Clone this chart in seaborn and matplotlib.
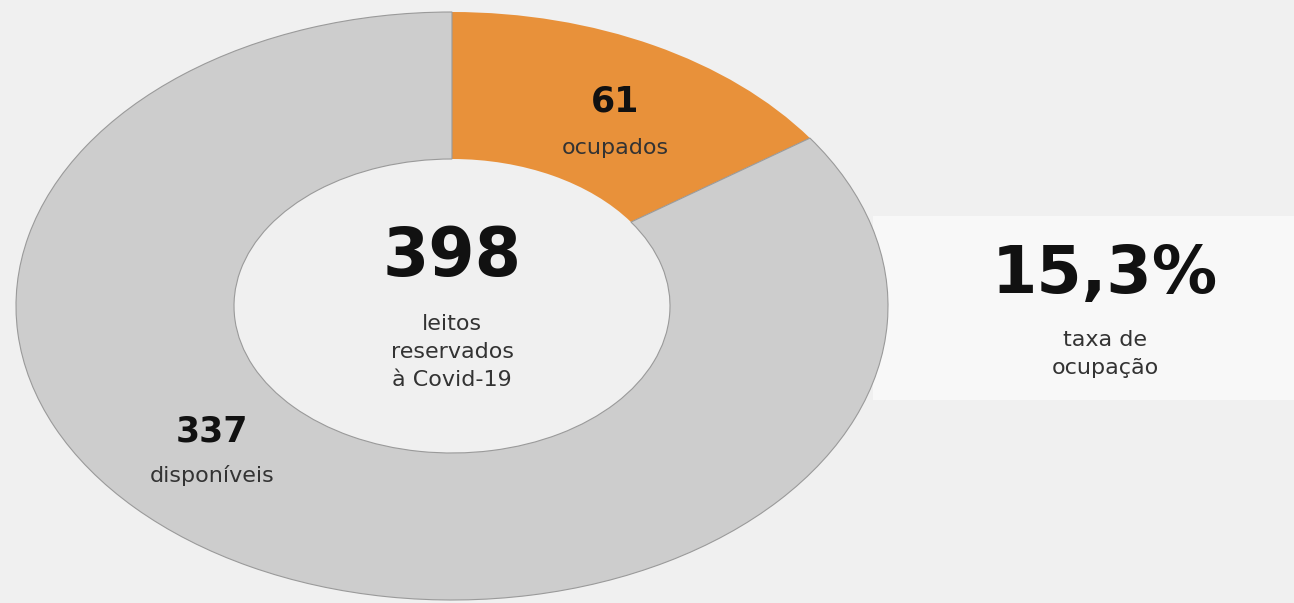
import matplotlib
matplotlib.use('Agg')
import matplotlib.pyplot as plt
import matplotlib.patches as patches
import seaborn as sns

# Data
labels = ['ocupados', 'disponíveis']
values = [61, 337]
total = 398
taxa = '15,3%'
center_lines = ['leitos', 'reservados', 'à Covid-19']
taxa_lines = ['taxa de', 'ocupação']
colors = ['#e8913a', '#cdcdcd']

sns.set_theme(style='white')
plt.rcParams['font.family'] = ['DejaVu Sans']

bg = '#f0f0f0'
fig = plt.figure(figsize=(12.94, 6.03), dpi=100, facecolor=bg)
ax = fig.add_axes([0, 0, 1, 1])
ax.set_facecolor(bg)

# right panel behind the donut
ax.add_patch(patches.Rectangle((0.675, 0.337), 0.33, 0.305, transform=ax.transAxes,
                               facecolor='#f8f8f8', edgecolor='none', zorder=0))

wedges, _ = ax.pie(values, startangle=90, counterclock=False, colors=colors,
                   wedgeprops=dict(width=0.5, linewidth=0))
wedges[1].set_edgecolor('#9a9a9a')
wedges[1].set_linewidth(0.8)
for w in wedges:
    w.set_zorder(2)

# stretch the donut horizontally like the original
ax.set_aspect('auto')
ax.set_xlim(-452 / 436, (1294 - 452) / 436)
ax.set_ylim(-297 / 294, (603 - 297) / 294)
ax.axis('off')

dark = '#111111'
mid = '#333333'

def px(x, y):
    # pixel position from top-left -> data coords (text sits a bit low, so lift it)
    return (x - 452) / 436, (297 - (y - 7)) / 294

# centre
ax.text(*px(452, 255), str(total), ha='center', va='center', fontsize=48,
        fontweight='bold', color=dark, zorder=3)
for i, line in enumerate(center_lines):
    ax.text(*px(452, 322 + 28 * i), line, ha='center', va='center', fontsize=16,
            color=mid, zorder=3)

# slices
ax.text(*px(615, 100), str(values[0]), ha='center', va='center', fontsize=25,
        fontweight='bold', color=dark, zorder=3)
ax.text(*px(615, 146), labels[0], ha='center', va='center', fontsize=16,
        color=mid, zorder=3)
ax.text(*px(212, 429), str(values[1]), ha='center', va='center', fontsize=25,
        fontweight='bold', color=dark, zorder=3)
ax.text(*px(212, 473), labels[1], ha='center', va='center', fontsize=16,
        color=mid, zorder=3)

# occupancy rate
ax.text(*px(1105, 273), taxa, ha='center', va='center', fontsize=47,
        fontweight='bold', color=dark, zorder=3)
for i, line in enumerate(taxa_lines):
    ax.text(*px(1105, 338 + 28 * i), line, ha='center', va='center', fontsize=16,
            color=mid, zorder=3)

fig.savefig('out.png', dpi=100, facecolor=bg)
